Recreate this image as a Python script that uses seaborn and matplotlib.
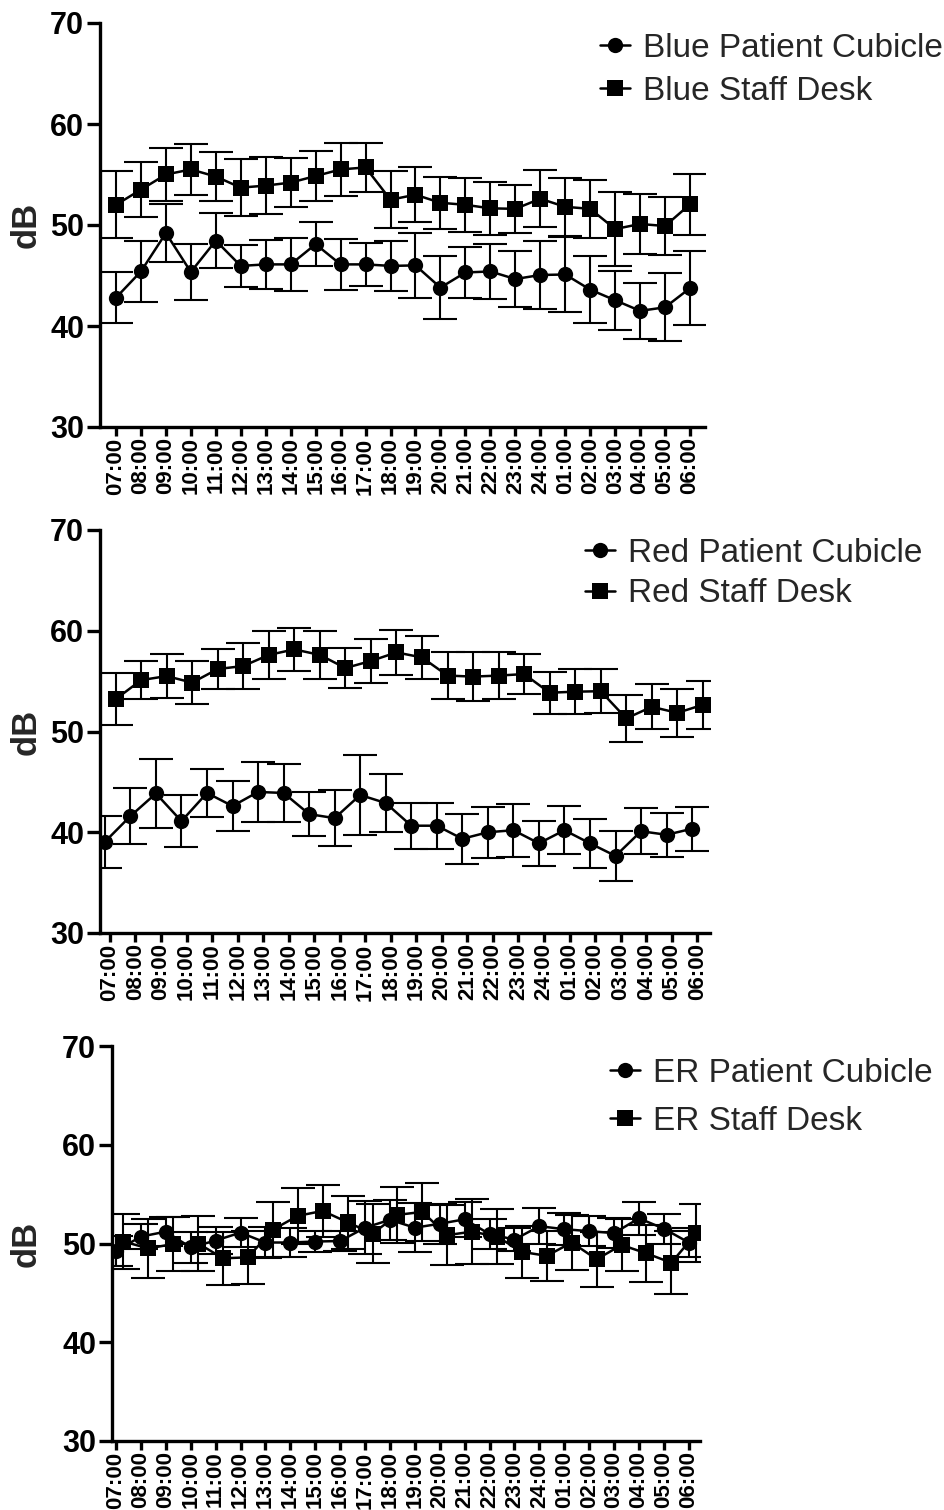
import numpy as np
import pandas as pd
import matplotlib
matplotlib.use("Agg")
import matplotlib.pyplot as plt
import seaborn as sns
from matplotlib.lines import Line2D

hours = ["07:00", "08:00", "09:00", "10:00", "11:00", "12:00", "13:00", "14:00",
         "15:00", "16:00", "17:00", "18:00", "19:00", "20:00", "21:00", "22:00",
         "23:00", "24:00", "01:00", "02:00", "03:00", "04:00", "05:00", "06:00"]

blue_patient = [42.8, 45.4, 49.2, 45.35, 48.45, 45.95, 46.1, 46.1, 48.1, 46.1, 46.1, 45.95,
                46.0, 43.8, 45.3, 45.4, 44.65, 45.05, 45.1, 43.6, 42.55, 41.5, 41.85, 43.75]
blue_patient_err = [2.5, 3.05, 2.9, 2.75, 2.75, 2.1, 2.4, 2.6, 2.2, 2.5, 2.15, 2.5,
                    3.2, 3.1, 2.5, 2.7, 2.8, 3.4, 3.7, 3.3, 2.9, 2.75, 3.35, 3.7]
blue_staff = [52.0, 53.5, 55.0, 55.5, 54.8, 53.7, 53.9, 54.2, 54.85, 55.5, 55.7, 52.5,
              53.0, 52.2, 52.0, 51.65, 51.6, 52.6, 51.8, 51.6, 49.6, 50.1, 49.9, 52.05]
blue_staff_err = [3.3, 2.7, 2.6, 2.5, 2.4, 2.8, 2.8, 2.4, 2.45, 2.6, 2.4, 2.8,
                  2.7, 2.6, 2.7, 2.65, 2.4, 2.8, 2.9, 2.9, 3.7, 3.0, 2.9, 3.0]

red_patient = [39.05, 41.6, 43.85, 41.1, 43.9, 42.6, 44.0, 43.9, 41.8, 41.4, 43.7, 42.9,
               40.65, 40.65, 39.35, 40.0, 40.2, 38.9, 40.2, 38.9, 37.65, 40.1, 39.75, 40.35]
red_patient_err = [2.6, 2.75, 3.4, 2.55, 2.4, 2.5, 3.0, 2.9, 2.2, 2.8, 4.0, 2.85,
                   2.3, 2.3, 2.5, 2.55, 2.65, 2.25, 2.4, 2.4, 2.45, 2.3, 2.2, 2.2]
red_staff = [53.2, 55.1, 55.5, 54.85, 56.2, 56.5, 57.6, 58.15, 57.6, 56.3, 57.0, 57.85,
             57.35, 55.55, 55.45, 55.55, 55.7, 53.85, 53.95, 54.0, 51.3, 52.45, 51.85, 52.65]
red_staff_err = [2.6, 1.9, 2.2, 2.15, 2.0, 2.3, 2.4, 2.15, 2.4, 2.0, 2.2, 2.25,
                 2.15, 2.3, 2.4, 2.3, 2.0, 2.1, 2.25, 2.2, 2.3, 2.25, 2.35, 2.4]

er_patient = [49.25, 50.7, 51.2, 49.6, 50.3, 51.1, 50.1, 50.1, 50.2, 50.25, 51.6, 52.4,
              51.6, 52.0, 52.45, 50.95, 50.4, 51.75, 51.45, 51.25, 51.05, 52.55, 51.5, 50.1]
er_patient_err = [1.5, 1.3, 1.5, 1.6, 1.4, 1.5, 1.6, 1.5, 1.1, 1.0, 2.7, 2.0,
                  2.5, 2.0, 1.8, 1.5, 1.2, 1.8, 1.6, 1.5, 1.5, 1.7, 1.5, 1.5]
er_staff = [50.2, 49.5, 49.95, 50.0, 48.5, 48.6, 51.4, 52.8, 53.3, 52.15, 51.0, 52.9,
            53.2, 50.85, 51.2, 50.7, 49.15, 48.75, 50.1, 48.4, 49.85, 49.0, 48.05, 51.05]
er_staff_err = [2.8, 3.0, 2.7, 2.8, 2.7, 2.7, 2.8, 2.8, 2.65, 2.7, 3.0, 2.8,
                2.9, 3.0, 3.3, 2.8, 2.6, 2.5, 2.75, 2.8, 2.6, 2.9, 3.2, 2.9]

sns.set_theme(style="ticks")
plt.rcParams["font.family"] = ["Liberation Sans", "DejaVu Sans"]

W, H = 945, 1510
fig = plt.figure(figsize=(W / 100, H / 100), dpi=100)

panels = [
    dict(box=(100, 705, 23, 427), xlim=(-0.64, 23.6), off=(0.0, 0.0),
         series=[("Blue Patient Cubicle", blue_patient, blue_patient_err),
                 ("Blue Staff Desk", blue_staff, blue_staff_err)],
         leg=(600, 33, 0.35)),
    dict(box=(100, 710, 530, 933), xlim=(-0.39, 23.5), off=(-0.2, 0.22),
         series=[("Red Patient Cubicle", red_patient, red_patient_err),
                 ("Red Staff Desk", red_staff, red_staff_err)],
         leg=(585, 538, 0.28)),
    dict(box=(112, 700, 1046, 1441), xlim=(-0.16, 23.45), off=(0.0, 0.3),
         series=[("ER Patient Cubicle", er_patient, er_patient_err),
                 ("ER Staff Desk", er_staff, er_staff_err)],
         leg=(610, 1058, 0.5)),
]

marks = ["o", "s"]
for p in panels:
    l, r, t, b = p["box"]
    ax = fig.add_axes([l / W, 1 - b / H, (r - l) / W, (b - t) / H])
    frames = []
    for k, (name, vals, errs) in enumerate(p["series"]):
        frames.append(pd.DataFrame({"x": np.arange(len(hours)) + p["off"][k],
                                    "dB": vals, "err": errs, "series": name}))
    df = pd.concat(frames, ignore_index=True)
    names = [s[0] for s in p["series"]]
    for k, name in enumerate(names):
        sub = df[df["series"] == name]
        ax.errorbar(sub["x"], sub["dB"], yerr=sub["err"], fmt="none", ecolor="black",
                    elinewidth=1.5, capsize=12, capthick=1.5, zorder=2)
    sns.lineplot(data=df, x="x", y="dB", style="series", style_order=names,
                 markers=dict(zip(names, marks)), dashes=False, color="black",
                 markersize=11, markeredgewidth=0, linewidth=1.8, sort=False,
                 legend=False, ax=ax, zorder=3)
    ax.set_ylim(30, 70)
    ax.set_yticks([30, 40, 50, 60, 70])
    ax.set_xlim(*p["xlim"])
    ax.set_xticks(np.arange(len(hours)))
    ax.set_xticklabels(hours, rotation=90, fontsize=16, fontweight="bold")
    for lab in ax.get_yticklabels():
        lab.set_fontsize(22)
        lab.set_fontweight("bold")
    ax.set_xlabel("")
    ax.set_ylabel("dB", fontsize=25, fontweight="bold")
    ax.yaxis.set_label_coords((43 - l) / (r - l), 0.5)
    for s in ["top", "right"]:
        ax.spines[s].set_visible(False)
    for s in ["left", "bottom"]:
        ax.spines[s].set_linewidth(2.4)
        ax.spines[s].set_color("black")
    ax.tick_params(axis="y", length=9.5, width=2.4, pad=2, colors="black")
    ax.tick_params(axis="x", length=6.5, width=2.4, pad=1, colors="black")
    ax.set_facecolor("white")

    handles = [Line2D([0], [0], color="black", lw=1.8, marker=m, markersize=11,
                      markeredgewidth=0) for m in marks]
    lx, ly, ls = p["leg"]
    ax.legend(handles, names, loc="upper left", bbox_to_anchor=(lx / W, 1 - ly / H),
              bbox_transform=fig.transFigure, frameon=False, fontsize=24,
              handlelength=0.9, handletextpad=0.4, borderpad=0, borderaxespad=0,
              labelspacing=ls)

fig.savefig("out.png", dpi=100, facecolor="white")
